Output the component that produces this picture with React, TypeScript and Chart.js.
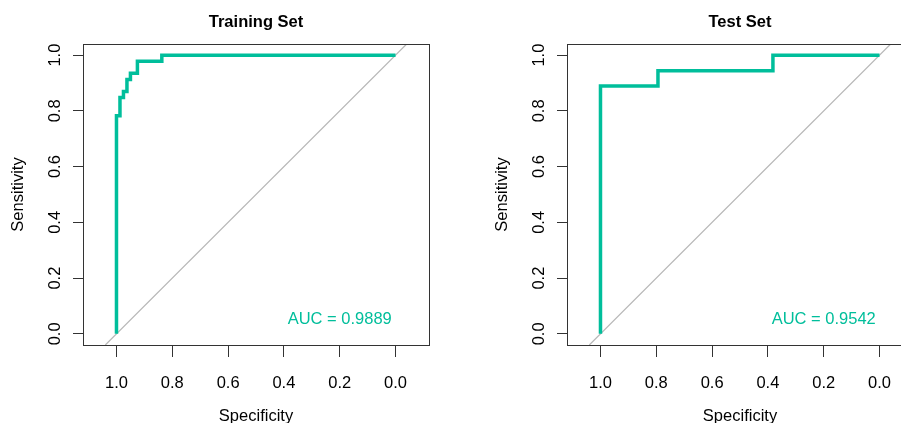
import React, { useEffect, useRef } from 'react';
import { Chart, registerables } from 'chart.js';

Chart.register(...registerables);

// ---- data ----
const X_TICKS = [1.0, 0.8, 0.6, 0.4, 0.2, 0.0];
const Y_TICKS = [0.0, 0.2, 0.4, 0.6, 0.8, 1.0];

const trainSpecificity = [1, 1, 0.9875, 0.9875, 0.975, 0.975, 0.9625, 0.9625, 0.95, 0.95, 0.925, 0.925, 0.8375, 0.8375, 0];
const trainSensitivity = [0, 0.783, 0.783, 0.848, 0.848, 0.87, 0.87, 0.913, 0.913, 0.935, 0.935, 0.978, 0.978, 1, 1];

const testSpecificity = [1, 1, 0.794, 0.794, 0.382, 0.382, 0];
const testSensitivity = [0, 0.889, 0.889, 0.944, 0.944, 1, 1];

const trainAUC = '0.9889';
const testAUC = '0.9542';

const panelTitles = ['Training Set', 'Test Set'];
const xTitle = 'Specificity';
const yTitle = 'Sensitivity';

// ---- axis ranges / style ----
const X_MIN = -0.12;
const X_MAX = 1.12;
const Y_MIN = -0.04;
const Y_MAX = 1.04;
const AUC_POS = { x: 0.2, y: 0.05 };

const PANEL_W = 484;
const PANEL_H = 423;
const TEAL = '#00BE9B';
const AXIS_COLOR = '#333333';
const FAMILY = "'Liberation Sans', Arial, Helvetica, sans-serif";
const TEXT_SIZE = 16.5;

const boxPlugin = {
  id: 'plotBox',
  afterDraw(chart: any) {
    const { ctx, chartArea: a } = chart;
    ctx.save();
    ctx.strokeStyle = AXIS_COLOR;
    ctx.lineWidth = 1;
    ctx.strokeRect(Math.round(a.left) + 0.5, Math.round(a.top) + 0.5, Math.round(a.right - a.left), Math.round(a.bottom - a.top));
    ctx.restore();
  },
};

function aucPlugin(text: string) {
  return {
    id: 'aucLabel',
    afterDatasetsDraw(chart: any) {
      const { ctx, scales } = chart;
      ctx.save();
      ctx.fillStyle = TEAL;
      ctx.font = `${TEXT_SIZE}px ${FAMILY}`;
      ctx.textAlign = 'center';
      ctx.textBaseline = 'middle';
      ctx.fillText(`AUC = ${text}`, scales.x.getPixelForValue(AUC_POS.x), scales.y.getPixelForValue(AUC_POS.y));
      ctx.restore();
    },
  };
}

function buildConfig(title: string, spec: number[], sens: number[], auc: string): any {
  const font = { family: FAMILY, size: TEXT_SIZE };
  const curve = spec.map((x, i) => ({ x, y: sens[i] }));
  const diagonal = [
    { x: 1 - Y_MIN, y: Y_MIN },
    { x: 1 - Y_MAX, y: Y_MAX },
  ];
  return {
    type: 'line',
    data: {
      datasets: [
        { data: curve, borderColor: TEAL, borderWidth: 3.5, pointRadius: 0, tension: 0, fill: false, borderJoinStyle: 'miter', borderCapStyle: 'butt' },
        { data: diagonal, borderColor: '#B8B8B8', borderWidth: 1.2, pointRadius: 0, tension: 0, fill: false },
      ],
    },
    options: {
      animation: false,
      responsive: false,
      devicePixelRatio: 1,
      parsing: false,
      layout: { padding: { left: 0, right: 55, top: 0, bottom: 0 } },
      plugins: {
        legend: { display: false },
        tooltip: { enabled: false },
        title: {
          display: true,
          text: title,
          fullSize: false,
          align: 'center',
          color: '#000',
          font: { family: FAMILY, size: 16.5, weight: 'bold' },
          padding: { top: 12.5, bottom: 11.7 },
        },
      },
      scales: {
        x: {
          type: 'linear',
          position: 'bottom',
          reverse: true,
          min: X_MIN,
          max: X_MAX,
          afterBuildTicks: (s: any) => {
            s.ticks = X_TICKS.map((v) => ({ value: v }));
          },
          afterFit: (s: any) => {
            s.height = PANEL_H - 345;
          },
          ticks: {
            autoSkip: false,
            minRotation: 0,
            maxRotation: 0,
            padding: 16.5,
            color: '#000',
            font,
            callback: (v: any) => Number(v).toFixed(1),
          },
          grid: { drawOnChartArea: false, drawTicks: true, tickLength: 12, color: AXIS_COLOR, lineWidth: 1 },
          border: { display: false },
          title: { display: true, text: xTitle, color: '#000', font, padding: { top: 0, bottom: -3 } },
        },
        y: {
          type: 'linear',
          position: 'left',
          min: Y_MIN,
          max: Y_MAX,
          afterBuildTicks: (s: any) => {
            s.ticks = Y_TICKS.map((v) => ({ value: v }));
          },
          afterFit: (s: any) => {
            s.width = 83;
          },
          ticks: {
            autoSkip: false,
            minRotation: 90,
            maxRotation: 90,
            crossAlign: 'center',
            padding: 6.5,
            color: '#000',
            font,
            callback: (v: any) => Number(v).toFixed(1),
          },
          grid: { drawOnChartArea: false, drawTicks: true, tickLength: 10, color: AXIS_COLOR, lineWidth: 1 },
          border: { display: false },
          title: { display: true, text: yTitle, color: '#000', font, padding: { top: 8.5, bottom: 0 } },
        },
      },
    },
    plugins: [boxPlugin, aucPlugin(auc)],
  };
}

function RocPanel(props: { left: number; title: string; spec: number[]; sens: number[]; auc: string }) {
  const ref = useRef<HTMLCanvasElement>(null);
  useEffect(() => {
    const chart = new Chart(ref.current as HTMLCanvasElement, buildConfig(props.title, props.spec, props.sens, props.auc));
    return () => chart.destroy();
  }, []);
  return (
    <canvas
      ref={ref}
      width={PANEL_W}
      height={PANEL_H}
      style={{ position: 'absolute', left: props.left, top: 0, width: PANEL_W, height: PANEL_H, display: 'block' }}
    />
  );
}

export default function App() {
  return (
    <div style={{ position: 'absolute', left: 0, top: 0, width: 901, height: 423, overflow: 'hidden', background: '#fff' }}>
      <RocPanel left={0} title={panelTitles[0]} spec={trainSpecificity} sens={trainSensitivity} auc={trainAUC} />
      <RocPanel left={PANEL_W} title={panelTitles[1]} spec={testSpecificity} sens={testSensitivity} auc={testAUC} />
    </div>
  );
}
